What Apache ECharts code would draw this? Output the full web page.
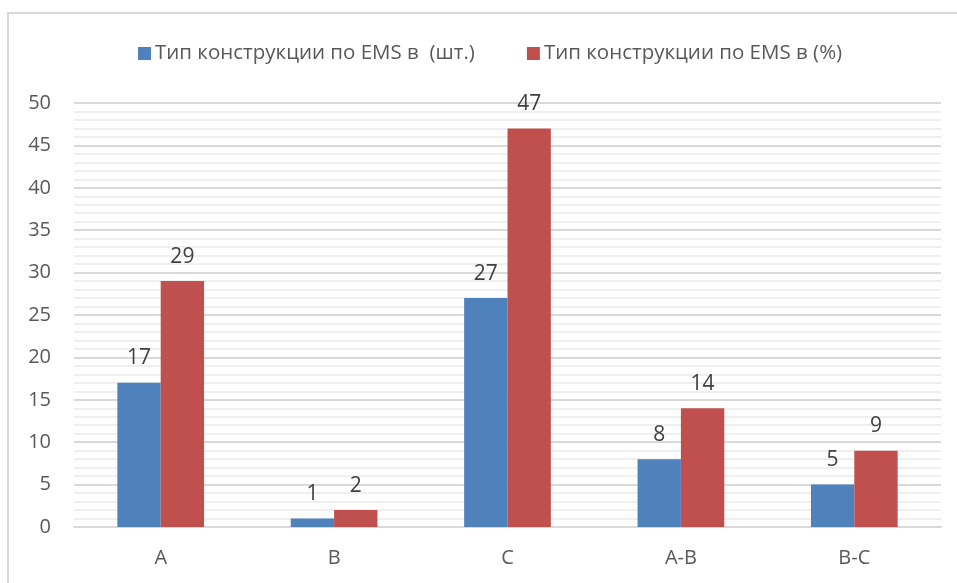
<!DOCTYPE html>
<html><head><meta charset="utf-8">
<script src="https://cdn.jsdelivr.net/npm/echarts@6/dist/echarts.min.js"></script>
<style>html,body{margin:0;padding:0;background:#fff}#c{width:957px;height:583px}</style>
</head><body><div id="c"></div>
<script>
const categories = ['A', 'B', 'C', 'A-B', 'B-C'];
const seriesNames = ['Тип конструкции по EMS в  (шт.)', 'Тип конструкции по EMS в (%)'];
const countValues = [17, 1, 27, 8, 5];
const percentValues = [29, 2, 47, 14, 9];
const yTicks = { min: 0, max: 50, interval: 5 };

const FONT = 'Open Sans';
const chart = echarts.init(document.getElementById('c'), null, { renderer: 'canvas' });
const labelStyle = { show: true, position: 'top', distance: 14, fontFamily: FONT, fontSize: 21, color: '#404040' };
chart.setOption({
  animation: false,
  textStyle: { fontFamily: FONT },
  graphic: [{ type: 'rect', shape: { x: 8, y: 13, width: 1100, height: 1000 }, style: { fill: 'none', stroke: '#d9d9d9', lineWidth: 2 }, silent: true }],
  legend: {
    top: 38, left: 133, itemGap: 52, itemWidth: 13, itemHeight: 13, icon: 'rect',
    textStyle: { fontFamily: FONT, fontSize: 20.5, color: '#595959', padding: [0, 0, 0, -1] },
    data: seriesNames
  },
  grid: { left: 74, right: 16, top: 103, bottom: 56, containLabel: false },
  xAxis: {
    type: 'category', data: categories,
    axisLine: { show: true, lineStyle: { color: '#d9d9d9', width: 2 } },
    axisTick: { show: false },
    axisLabel: { margin: 21, fontFamily: FONT, fontSize: 20, color: '#595959' }
  },
  yAxis: {
    type: 'value', min: yTicks.min, max: yTicks.max, interval: yTicks.interval,
    axisLine: { show: false }, axisTick: { show: false },
    axisLabel: { margin: 23, fontFamily: FONT, fontSize: 20, color: '#595959' },
    splitLine: { lineStyle: { color: '#d9d9d9', width: 2 } },
    minorTick: { show: false, splitNumber: 5 },
    minorSplitLine: { show: true, lineStyle: { color: '#efefef', width: 2 } }
  },
  series: [
    { name: seriesNames[0], type: 'bar', data: countValues, barGap: '0%', barCategoryGap: '50%',
      itemStyle: { color: '#4f81bd' }, label: labelStyle },
    { name: seriesNames[1], type: 'bar', data: percentValues,
      itemStyle: { color: '#c0504d' }, label: labelStyle }
  ]
});
</script></body></html>
